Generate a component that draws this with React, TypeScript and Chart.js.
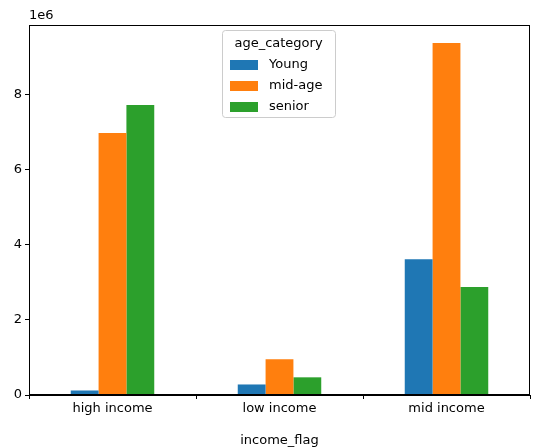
import React, { useEffect, useRef } from "react";
import { Chart, registerables } from "chart.js";
Chart.register(...registerables);

const categories = ["high income", "low income", "mid income"];
const young = [0.12e6, 0.28e6, 3.61e6];
const midAge = [6.97e6, 0.95e6, 9.36e6];
const senior = [7.71e6, 0.47e6, 2.87e6];
const yTicks = [0, 2e6, 4e6, 6e6, 8e6];
const FONT = "DejaVu Sans";

const framePlugin = {
  id: "frame",
  afterDraw(chart: any) {
    const { ctx, chartArea: a } = chart;
    ctx.save();
    ctx.strokeStyle = "#000";
    ctx.lineWidth = 1;
    ctx.strokeRect(a.left + 0.5, a.top + 0.5, a.right - a.left - 1, a.bottom - a.top - 1);
    ctx.fillStyle = "#000";
    ctx.font = `13px ${FONT}`;
    ctx.textBaseline = "bottom";
    ctx.textAlign = "left";
    ctx.fillText("1e6", a.left, a.top - 3);
    // legend
    const x0 = 222, y0 = 30, w = 113, h = 87;
    ctx.fillStyle = "rgba(255,255,255,0.8)";
    ctx.strokeStyle = "#ccc";
    ctx.beginPath();
    ctx.roundRect(x0 + 0.5, y0 + 0.5, w, h, 3);
    ctx.fill();
    ctx.stroke();
    ctx.fillStyle = "#000";
    ctx.textBaseline = "middle";
    ctx.textAlign = "center";
    ctx.fillText("age_category", x0 + w / 2, 44);
    ctx.textAlign = "left";
    chart.data.datasets.forEach((d: any, i: number) => {
      const yy = 65 + i * 21;
      ctx.fillStyle = d.backgroundColor;
      ctx.fillRect(230, yy - 5, 28, 10);
      ctx.fillStyle = "#000";
      ctx.fillText(d.label, 269, yy);
    });
    ctx.restore();
  },
};

export default function App() {
  const ref = useRef<HTMLCanvasElement>(null);
  useEffect(() => {
    const chart = new Chart(ref.current!, {
      type: "bar",
      data: {
        labels: categories,
        datasets: [
          { label: "Young", data: young, backgroundColor: "#1f77b4" },
          { label: "mid-age", data: midAge, backgroundColor: "#ff7f0e" },
          { label: "senior", data: senior, backgroundColor: "#2ca02c" },
        ],
      },
      options: {
        animation: false,
        responsive: false,
        devicePixelRatio: 1,
        layout: { padding: { top: 25, right: 4, left: 0, bottom: 0 } },
        datasets: { bar: { categoryPercentage: 0.5, barPercentage: 1 } },
        plugins: { legend: { display: false }, tooltip: { enabled: false } },
        scales: {
          x: {
            grid: { drawOnChartArea: false, drawTicks: true, tickLength: 4, color: "#000" },
            border: { color: "#000" },
            ticks: { color: "#000", font: { family: FONT, size: 13 }, padding: 2 },
            title: { display: true, text: "income_flag", color: "#000", font: { family: FONT, size: 13 }, padding: 0 },
            afterFit: (s: any) => { s.height = 53; },
          },
          y: {
            min: 0,
            max: 9.84e6,
            afterBuildTicks: (s: any) => { s.ticks = yTicks.map((v) => ({ value: v })); },
            grid: { drawOnChartArea: false, drawTicks: true, tickLength: 4, color: "#000" },
            border: { color: "#000" },
            ticks: { color: "#000", font: { family: FONT, size: 13 }, padding: 3, callback: (v: any) => String(Number(v) / 1e6) },
            afterFit: (s: any) => { s.width = 29; },
          },
        },
      },
      plugins: [framePlugin],
    });
    return () => chart.destroy();
  }, []);
  return (
    <div style={{ position: "fixed", left: 0, top: 0, width: 534, height: 448, background: "#fff" }}>
      <canvas ref={ref} width={534} height={448} />
    </div>
  );
}
